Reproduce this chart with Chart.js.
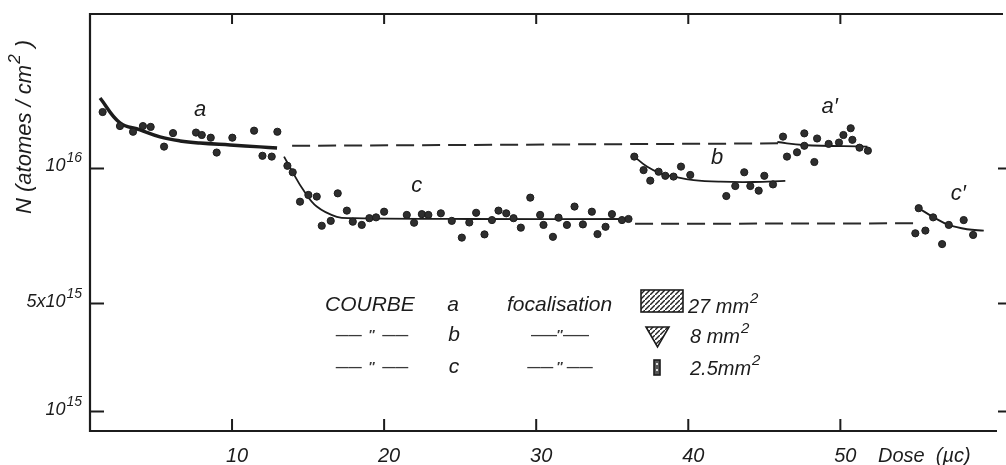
<!DOCTYPE html>
<html>
<head>
<meta charset="utf-8">
<script src="https://cdn.jsdelivr.net/npm/chart.js@4.4.1/dist/chart.umd.min.js"></script>
<style>
  html, body { margin: 0; background: #fff; }
</style>
</head>
<body>
<canvas id="chart" width="1006" height="465"></canvas>
<script>
// N in units of 1e15 atomes/cm2, dose in µC

// courbe a (27 mm2)
const doseA = [1.49, 2.63, 3.49, 4.14, 4.65, 5.53, 6.12, 7.63, 8.01, 8.6, 8.99, 10.02, 11.45, 12.0, 12.61, 12.98];
const nA = [12.09, 11.57, 11.36, 11.57, 11.54, 10.81, 11.31, 11.33, 11.24, 11.14, 10.59, 11.14, 11.4, 10.47, 10.44, 11.36];
const fitDoseA = [1.32, 2.63, 3.95, 5.26, 6.58, 7.89, 9.87, 11.84, 12.96];
const fitNA = [12.61, 11.69, 11.43, 11.17, 11.02, 10.94, 10.87, 10.80, 10.76];

// courbe c (2.5 mm2)
const doseC = [13.64, 13.99, 14.47, 15.02, 15.57, 15.9, 16.49, 16.95, 17.55, 17.94, 18.53, 19.03, 19.47, 20.0, 21.49,
  21.97, 22.48, 22.91, 23.73, 24.45, 25.11, 25.6, 26.05, 26.6, 27.09, 27.52, 28.03, 28.51, 28.99, 29.61,
  30.26, 30.48, 31.1, 31.47, 32.02, 32.52, 33.07, 33.66, 34.03, 34.56, 34.98, 35.64, 36.07];
const nC = [10.10, 9.86, 8.77, 9.02, 8.96, 7.88, 8.06, 9.08, 8.44, 8.03, 7.91, 8.16, 8.19, 8.4, 8.28,
  7.99, 8.31, 8.28, 8.34, 8.06, 7.44, 8.0, 8.36, 7.56, 8.09, 8.44, 8.34, 8.16, 7.81, 8.92,
  8.28, 7.91, 7.47, 8.18, 7.91, 8.59, 7.93, 8.4, 7.57, 7.84, 8.31, 8.09, 8.13];
const fitDoseC = [13.42, 14.03, 14.69, 15.57, 16.89, 17.98, 25.66, 36.18];
const fitNC = [10.44, 9.82, 9.2, 8.59, 8.21, 8.16, 8.13, 8.13];

// courbe b (8 mm2)
const doseB = [36.45, 37.06, 37.5, 38.05, 38.49, 39.03, 39.52, 40.13, 42.5, 43.09, 43.68, 44.08, 44.63, 45.0, 45.57];
const nB = [10.44, 9.94, 9.55, 9.88, 9.73, 9.7, 10.07, 9.76, 8.98, 9.35, 9.86, 9.35, 9.18, 9.73, 9.41];
const fitDoseB = [36.45, 37.28, 38.16, 39.03, 40.35, 42.11, 44.3, 46.38];
const fitNB = [10.44, 10.07, 9.82, 9.7, 9.57, 9.51, 9.5, 9.54];

// courbe a'
const doseA2 = [46.23, 46.49, 47.15, 47.63, 47.63, 48.29, 48.47, 49.23, 49.91, 50.2, 50.68, 50.79, 51.26, 51.81];
const nA2 = [11.18, 10.44, 10.6, 11.3, 10.84, 10.24, 11.11, 10.91, 10.96, 11.24, 11.49, 11.06, 10.77, 10.66];
const fitDoseA2 = [45.86, 47.57, 51.78];
const fitNA2 = [10.98, 10.87, 10.81];

// courbe c'
const doseC2 = [55.15, 54.93, 55.59, 56.1, 56.69, 57.13, 58.11, 58.73];
const nC2 = [8.53, 7.6, 7.7, 8.19, 7.2, 7.91, 8.09, 7.54];
const fitDoseC2 = [55.15, 56.14, 57.13, 58.33, 59.43];
const fitNC2 = [8.53, 8.19, 7.91, 7.75, 7.7];

// dashed links between a -> a' and c -> c'
const linkDoseA = [13.95, 45.9];
const linkNA = [10.84, 10.93];
const linkDoseC = [36.5, 55.0];
const linkNC = [7.95, 7.97];

// axes
const xTicks = [10, 20, 30, 40, 50];
const yTicks = [10, 5, 1];
const yTickBase = ['10', '5x10', '10'];
const yTickExp = ['16', '15', '15'];

const ink = '#1c1c1c';
const font = '"Liberation Sans", Arial, sans-serif';

function pts(xs, ys) {
  return xs.map((v, i) => ({ x: v, y: ys[i] }));
}

function dots(xs, ys) {
  return {
    data: pts(xs, ys), showLine: false, order: 0,
    pointRadius: 3.6, pointBackgroundColor: '#2e2e2e', pointBorderColor: '#1c1c1c', pointBorderWidth: 1
  };
}

function curve(xs, ys, width) {
  return {
    data: pts(xs, ys), showLine: true, order: 1, tension: 0.4,
    borderColor: ink, borderWidth: width, pointRadius: 0
  };
}

function dashed(xs, ys) {
  return {
    data: pts(xs, ys), showLine: true, order: 1,
    borderColor: '#2a2a2a', borderWidth: 2, borderDash: [18, 8], pointRadius: 0
  };
}

// text with a raised exponent
function supText(ctx, base, sup, x, y, size, align, ratio) {
  const r = ratio || 0.72;
  ctx.font = `italic ${size}px ${font}`;
  const wb = ctx.measureText(base).width;
  ctx.font = `italic ${Math.round(size * r)}px ${font}`;
  const ws = ctx.measureText(sup).width;
  let x0 = x;
  if (align === 'right') x0 = x - wb - ws - 1;
  if (align === 'center') x0 = x - (wb + ws) / 2;
  ctx.textAlign = 'left';
  ctx.font = `italic ${size}px ${font}`;
  ctx.fillText(base, x0, y);
  ctx.font = `italic ${Math.round(size * r)}px ${font}`;
  ctx.fillText(sup, x0 + wb + 1, y - size * 0.5);
  return x0 + wb + ws + 1;
}

function hatch(ctx) {
  const c = document.createElement('canvas');
  c.width = 5; c.height = 5;
  const g = c.getContext('2d');
  g.strokeStyle = '#222'; g.lineWidth = 1.4;
  g.beginPath(); g.moveTo(0, 5); g.lineTo(5, 0); g.stroke();
  return ctx.createPattern(c, 'repeat');
}

const framePlugin = {
  id: 'frame',
  afterDraw(chart) {
    const { ctx, chartArea: a, scales: { x, y } } = chart;
    ctx.save();
    ctx.strokeStyle = ink;
    ctx.fillStyle = ink;

    // frame: top, left, bottom (no right line in the original)
    ctx.lineWidth = 2.2;
    ctx.beginPath();
    ctx.moveTo(1003, a.top); ctx.lineTo(a.left, a.top);
    ctx.lineTo(a.left, a.bottom); ctx.lineTo(a.right, a.bottom);
    ctx.stroke();

    // ticks
    ctx.lineWidth = 2;
    ctx.beginPath();
    xTicks.forEach(v => {
      const px = x.getPixelForValue(v);
      ctx.moveTo(px, a.bottom); ctx.lineTo(px, a.bottom - 12);
      ctx.moveTo(px, a.top); ctx.lineTo(px, a.top + 10);
    });
    yTicks.forEach(v => {
      const py = y.getPixelForValue(v);
      ctx.moveTo(a.left, py); ctx.lineTo(a.left + 14, py);
      ctx.moveTo(a.right + 1, py); ctx.lineTo(a.right + 9, py);
    });
    ctx.stroke();

    // tick labels
    ctx.textBaseline = 'alphabetic';
    ctx.font = `italic 20px ${font}`;
    ctx.textAlign = 'center';
    xTicks.forEach(v => {
      ctx.fillText(String(v), x.getPixelForValue(v) + 5, 462);
    });
    ctx.textAlign = 'left';
    ctx.fillText('Dose  (µc)', 878, 462);

    yTicks.forEach((v, i) => {
      supText(ctx, yTickBase[i], yTickExp[i], 82, y.getPixelForValue(v) + 3, 18, 'right', 0.78);
    });

    // y title
    ctx.save();
    ctx.translate(31, 122);
    ctx.rotate(-Math.PI / 2);
    const end = supText(ctx, 'N (atomes / cm', '2', -92, 0, 22, 'left', 0.75);
    ctx.font = `italic 22px ${font}`;
    ctx.fillText(' )', end + 1, 0);
    ctx.restore();

    // curve names
    ctx.font = `italic 22px ${font}`;
    ctx.textAlign = 'center';
    ctx.textBaseline = 'middle';
    ctx.fillText('a', x.getPixelForValue(7.9), y.getPixelForValue(12.17));
    ctx.fillText('c', x.getPixelForValue(22.15), y.getPixelForValue(9.35));
    ctx.fillText('b', x.getPixelForValue(41.89), y.getPixelForValue(10.38));
    ctx.fillText('a\u2032', x.getPixelForValue(49.3), y.getPixelForValue(12.29));
    ctx.fillText('c\u2032', x.getPixelForValue(57.75), y.getPixelForValue(9.06));

    // legend block
    const rows = [305, 335, 367];
    ctx.font = `italic 21px ${font}`;
    ctx.textAlign = 'left';
    ctx.fillText('COURBE', 325, rows[0]);
    ctx.fillText('focalisation', 507, rows[0]);
    ctx.textAlign = 'center';
    ctx.fillText('a', 453, rows[0]);
    ctx.fillText('b', 454, rows[1]);
    ctx.fillText('c', 454, rows[2]);
    ctx.font = `bold 13px ${font}`;
    ctx.fillStyle = '#3a3a3a';
    ctx.fillText('——  \u2033  ——', 372, rows[1]);
    ctx.fillText('——  \u2033  ——', 372, rows[2]);
    ctx.fillText('——\u2033——', 560, rows[1]);
    ctx.fillText('—— \u2033 ——', 560, rows[2]);
    ctx.fillStyle = ink;

    // focalisation symbols
    const pat = hatch(ctx);
    ctx.lineWidth = 1.6;
    ctx.fillStyle = pat;
    ctx.fillRect(641, 290, 42, 22);
    ctx.strokeRect(641, 290, 42, 22);
    ctx.beginPath();
    ctx.moveTo(646, 327); ctx.lineTo(669, 327); ctx.lineTo(657.5, 347); ctx.closePath();
    ctx.fill(); ctx.stroke();
    ctx.fillStyle = '#555';
    ctx.fillRect(654, 360, 6, 15);
    ctx.strokeRect(654, 360, 6, 15);
    ctx.fillStyle = '#ddd';
    ctx.fillRect(656, 363, 2, 2);
    ctx.fillRect(656, 369, 2, 2);

    ctx.fillStyle = ink;
    ctx.textBaseline = 'alphabetic';
    supText(ctx, '27 mm', '2', 688, rows[0] + 8, 20, 'left', 0.75);
    supText(ctx, '8 mm', '2', 690, rows[1] + 8, 20, 'left', 0.75);
    supText(ctx, '2.5mm', '2', 690, rows[2] + 8, 20, 'left', 0.75);

    ctx.restore();
  }
};

new Chart(document.getElementById('chart'), {
  type: 'scatter',
  data: {
    datasets: [
      dots(doseA, nA),
      dots(doseC, nC),
      dots(doseB, nB),
      dots(doseA2, nA2),
      dots(doseC2, nC2),
      curve(fitDoseA, fitNA, 3.5),
      curve(fitDoseC, fitNC, 1.8),
      curve(fitDoseB, fitNB, 1.8),
      curve(fitDoseA2, fitNA2, 1.8),
      curve(fitDoseC2, fitNC2, 1.8),
      dashed(linkDoseA, linkNA),
      dashed(linkDoseC, linkNC)
    ]
  },
  options: {
    responsive: false,
    animation: false,
    layout: { padding: { left: 90, right: 9, top: 14, bottom: 34 } },
    scales: {
      x: { type: 'linear', min: 0.66, max: 60.3, display: false },
      y: { type: 'linear', min: 0.28, max: 15.72, display: false }
    },
    plugins: {
      legend: { display: false },
      tooltip: { enabled: false }
    }
  },
  plugins: [framePlugin]
});
</script>
</body>
</html>
